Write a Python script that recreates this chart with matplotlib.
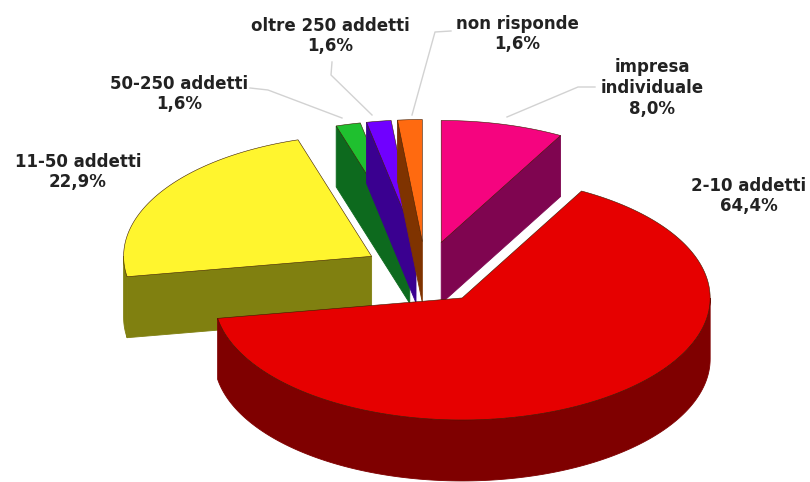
import numpy as np
import matplotlib
matplotlib.use('Agg')
import matplotlib.pyplot as plt
from matplotlib.patches import Polygon

labels = ['impresa\nindividuale', '2-10 addetti', '11-50 addetti',
          '50-250 addetti', 'oltre 250 addetti', 'non risponde']
shares = [8.0, 64.4, 22.9, 1.6, 1.6, 1.6]
share_text = ['8,0%', '64,4%', '22,9%', '1,6%', '1,6%', '1,6%']

top_colors = ['#F5047F', '#E60000', '#FFF52E', '#1FC02F', '#7000FF', '#FF6A10']
side_colors = ['#7F0550', '#7F0000', '#808010', '#0D6A1E', '#3A0090', '#7F3300']

# label centre and leader line for each slice (None = no leader)
label_pos = [(652, 88), (749, 196), (78, 172), (179, 94), (330, 36), (517, 34)]
leaders = [[(595, 87), (578, 87), (507, 117)],
           None,
           None,
           [(250, 88), (268, 90), (342, 118)],
           [(332, 62), (331, 75), (372, 115)],
           [(451, 31), (435, 32), (412, 115)]]

# back to front
draw_order = [0, 3, 4, 5, 2, 1]

cx, cy = 425.5, 272.6
rx, ry = 248, 122
depth = 61
explode = 0.255

fig = plt.figure(figsize=(8.1, 4.82), dpi=100)
ax = fig.add_axes([0, 0, 1, 1])
ax.set_xlim(0, 810)
ax.set_ylim(482, 0)
ax.axis('off')

fractions = np.array(shares) / sum(shares)
ends = np.cumsum(fractions) * 2 * np.pi
starts = ends - fractions * 2 * np.pi


def rim(a0, a1, ox, oy):
    t = np.linspace(a0, a1, max(int((a1 - a0) * 60), 2))
    return np.column_stack([ox + rx * np.sin(t), oy - ry * np.cos(t)])


def draw_slice(i):
    a0, a1 = starts[i], ends[i]
    mid = (a0 + a1) / 2
    ox = cx + explode * rx * np.sin(mid)
    oy = cy - explode * ry * np.cos(mid)
    arc = rim(a0, a1, ox, oy)
    apex = np.array([ox, oy])
    down = np.array([0, depth])
    side = side_colors[i]

    # cut faces, only those turned towards the viewer
    if np.sin(a0) < -1e-6:
        quad = [apex, arc[0], arc[0] + down, apex + down]
        ax.add_patch(Polygon(quad, closed=True, fc=side, ec=side, lw=0.6))
    if np.sin(a1) > 1e-6:
        quad = [apex, arc[-1], arc[-1] + down, apex + down]
        ax.add_patch(Polygon(quad, closed=True, fc=side, ec=side, lw=0.6))

    # curved wall on the front half of the ellipse
    w0, w1 = max(a0, np.pi / 2), min(a1, 3 * np.pi / 2)
    if w1 > w0:
        front = rim(w0, w1, ox, oy)
        wall = np.vstack([front, (front + down)[::-1]])
        ax.add_patch(Polygon(wall, closed=True, fc=side, ec=side, lw=0.6))

    top = np.vstack([apex, arc])
    ax.add_patch(Polygon(top, closed=True, fc=top_colors[i], ec='#3a1a00', lw=0.4))


for i in draw_order:
    draw_slice(i)

for i, line in enumerate(leaders):
    if line is not None:
        xs, ys = zip(*line)
        ax.plot(xs, ys, color='#D2D2D2', lw=1, zorder=2)

for i, (x, y) in enumerate(label_pos):
    ax.text(x, y, labels[i] + '\n' + share_text[i], ha='center', va='center',
            fontsize=12, fontweight='bold', color='#222222', family='DejaVu Sans',
            linespacing=1.2, zorder=3)

fig.savefig('out.png', dpi=100)
